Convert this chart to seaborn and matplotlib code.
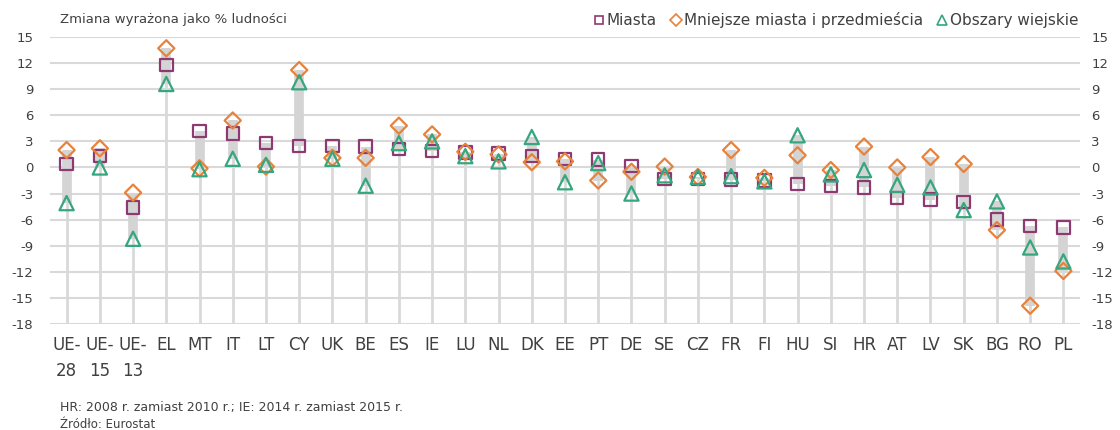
import numpy as np
import pandas as pd
import matplotlib
matplotlib.use("Agg")
import matplotlib.pyplot as plt
import seaborn as sns
from matplotlib.lines import Line2D

# --- DATA ---
kraje = ['UE-\n28', 'UE-\n15', 'UE-\n13', 'EL', 'MT', 'IT', 'LT', 'CY', 'UK', 'BE',
         'ES', 'IE', 'LU', 'NL', 'DK', 'EE', 'PT', 'DE', 'SE', 'CZ', 'FR', 'FI',
         'HU', 'SI', 'HR', 'AT', 'LV', 'SK', 'BG', 'RO', 'PL']

miasta = [0.4, 1.3, -4.6, 11.8, 4.2, 3.9, 2.8, 2.5, 2.5, 2.4,
          2.1, 1.9, 1.7, 1.6, 1.3, 1.0, 0.9, 0.2, -1.3, -1.3, -1.4, -1.5,
          -1.9, -2.1, -2.3, -3.5, -3.7, -4.0, -6.0, -6.7, -6.9]

mniejsze = [2.0, 2.2, -2.9, 13.7, -0.1, 5.4, 0.1, 11.2, 1.1, 1.1,
            4.8, 3.8, 1.8, 1.5, 0.6, 0.7, -1.5, -0.5, 0.1, -1.1, 2.0, -1.2,
            1.4, -0.3, 2.4, 0.0, 1.2, 0.4, -7.2, -15.9, -11.9]

wiejskie = [-4.1, 0.0, -8.2, 9.6, -0.2, 1.0, 0.3, 9.8, 1.0, -2.1,
            2.8, 3.0, 1.3, 0.7, 3.5, -1.7, 0.5, -3.0, -0.9, -1.1, -1.0, -1.6,
            3.7, -0.8, -0.3, -2.0, -2.3, -4.9, -3.9, -9.2, -10.8]

serie = ['Miasta', 'Mniejsze miasta i przedmieścia', 'Obszary wiejskie']
yticks = list(range(-18, 16, 3))

df = pd.DataFrame({'kraj': kraje, 'Miasta': miasta,
                   'Mniejsze miasta i przedmieścia': mniejsze,
                   'Obszary wiejskie': wiejskie})
df['x'] = np.arange(len(df))
df['lo'] = df[serie].min(axis=1)
df['hi'] = df[serie].max(axis=1)

# --- STYLE ---
sns.set_style("white")
plt.rcParams['font.family'] = ['DejaVu Sans']
txt = '#404040'
grid = '#d9d9d9'
kolory = {'Miasta': '#8e3a72',
          'Mniejsze miasta i przedmieścia': '#e8823a',
          'Obszary wiejskie': '#35a67e'}
markery = {'Miasta': 's', 'Mniejsze miasta i przedmieścia': 'D', 'Obszary wiejskie': '^'}
rozmiary = {'Miasta': 80, 'Mniejsze miasta i przedmieścia': 68, 'Obszary wiejskie': 105}

fig = plt.figure(figsize=(11.2, 4.3), dpi=100)
ax = fig.add_axes([50 / 1120, 1 - 324 / 430, 1030 / 1120, 287 / 430])

# horizontal grid
for t in yticks:
    ax.axhline(t, color=grid, lw=1.5, zorder=0)

# drop lines and high-low band
ax.vlines(df['x'], -18, df['hi'], color=grid, lw=2, zorder=1)
ax.vlines(df['x'], df['lo'], df['hi'], color='#d4d4d4', lw=7, zorder=1)

for s in serie:
    sns.scatterplot(data=df, x='x', y=s, marker=markery[s], s=rozmiary[s],
                    facecolor='none', edgecolor=kolory[s], linewidth=1.6,
                    zorder=3, ax=ax, legend=False)

ax.set_xlim(-0.5, len(df) - 0.5)
ax.set_ylim(-18, 15)
ax.set_xticks(df['x'])
ax.set_xticklabels(kraje, fontsize=12, color=txt, linespacing=1.55)
ax.set_yticks(yticks)
ax.set_yticklabels([str(t) for t in yticks], fontsize=9.5, color=txt)
ax.tick_params(axis='x', length=0, pad=9)
ax.tick_params(axis='y', length=0, pad=12)
ax.set_xlabel('')
ax.set_ylabel('')
for sp in ax.spines.values():
    sp.set_visible(False)

ax2 = ax.twinx()
ax2.set_ylim(-18, 15)
ax2.set_yticks(yticks)
ax2.set_yticklabels([str(t) for t in yticks], fontsize=9.5, color=txt)
ax2.tick_params(axis='y', length=0, pad=8)
for sp in ax2.spines.values():
    sp.set_visible(False)

# legend
uchwyty = [Line2D([], [], marker=markery[s], ls='', markersize=6 if s != 'Obszary wiejskie' else 7,
                  markerfacecolor='none', markeredgecolor=kolory[s], markeredgewidth=1.2)
           for s in serie]
fig.legend(uchwyty, serie, loc='center right', bbox_to_anchor=(1078 / 1120, 1 - 20 / 430),
           ncol=3, frameon=False, fontsize=11, handlelength=0.7, handletextpad=0.15,
           columnspacing=0.9, labelcolor=txt, borderaxespad=0, borderpad=0)

fig.text(60 / 1120, 1 - 19 / 430, 'Zmiana wyrażona jako % ludności', fontsize=9.5,
         color=txt, va='center', ha='left')
fig.text(60 / 1120, 1 - 408 / 430, 'HR: 2008 r. zamiast 2010 r.; IE: 2014 r. zamiast 2015 r.',
         fontsize=9, color=txt, va='center', ha='left')
fig.text(60 / 1120, 1 - 424 / 430, 'Źródło: Eurostat', fontsize=8.5, color=txt,
         va='center', ha='left')

plt.savefig('out.png', dpi=100)
